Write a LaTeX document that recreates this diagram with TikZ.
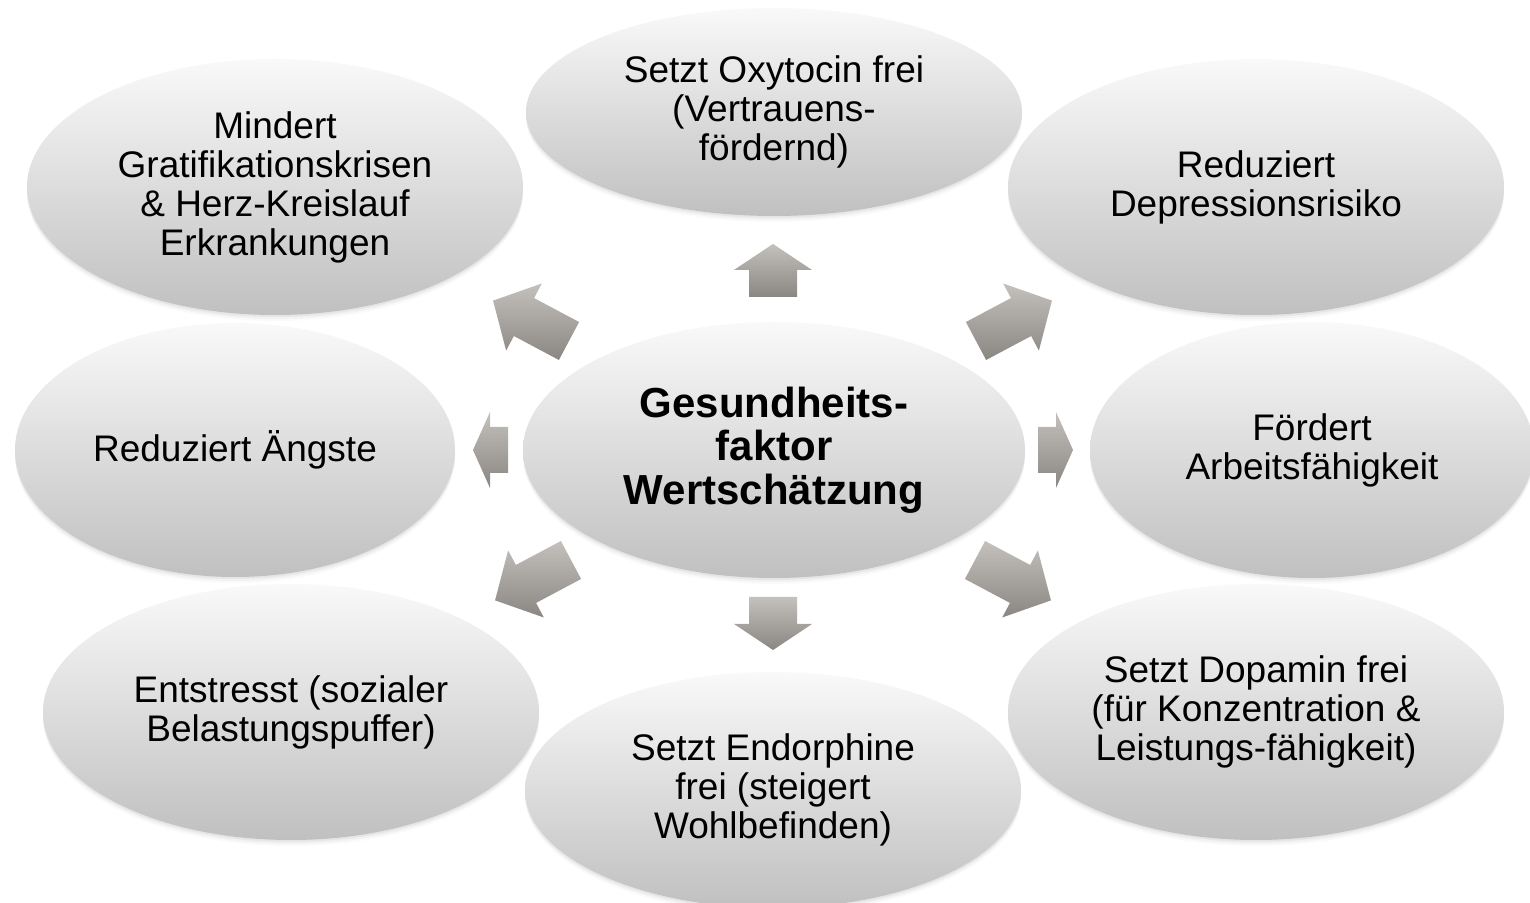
\documentclass[tikz,border=0pt]{standalone}
\usepackage{fontspec}
\setmainfont{Liberation Sans}
\usetikzlibrary{shapes.geometric,shadows,calc}
\definecolor{ellTop}{RGB}{249,249,249}
\definecolor{ellBot}{RGB}{192,192,192}
\definecolor{arrTop}{RGB}{196,192,188}
\definecolor{arrBot}{RGB}{138,134,130}
\tikzset{
  bubble/.style={ellipse, inner sep=0pt, align=center, draw=none,
    top color=ellTop, bottom color=ellBot,
    font=\fontsize{37}{39}\selectfont,
    drop shadow={shadow xshift=0pt,shadow yshift=-2pt,opacity=.10},
    drop shadow={shadow xshift=0pt,shadow yshift=-4pt,opacity=.07},
    drop shadow={shadow xshift=0pt,shadow yshift=-6pt,opacity=.04}},
  hub/.style={bubble, font=\fontsize{42}{43.5}\selectfont\bfseries},
  arrowfill/.style={top color=arrTop, bottom color=arrBot, draw=none},
}
% #1 start coordinate, #2 angle, #3 length, #4 head length, #5 head width, #6 shaft width
\newcommand{\blockarr}[6]{%
  \shade[arrowfill] ($(#1)+(#2+90:#6/2)$) -- ($(#1)+(#2:#3-#4)+(#2+90:#6/2)$)
    -- ($(#1)+(#2:#3-#4)+(#2+90:#5/2)$) -- ($(#1)+(#2:#3)$)
    -- ($(#1)+(#2:#3-#4)+(#2-90:#5/2)$) -- ($(#1)+(#2:#3-#4)+(#2-90:#6/2)$)
    -- ($(#1)+(#2-90:#6/2)$) -- cycle;}
\begin{document}
\begin{tikzpicture}[x=1pt,y=1pt]
\useasboundingbox (0,0) rectangle (1530,902);

% outer bubbles
\node[bubble, minimum width=496pt, minimum height=208pt] (top) at (774,790)
  {Setzt Oxytocin frei\\(Vertrauens-\\fördernd)};
\node[bubble, minimum width=496pt, minimum height=256pt] (tl) at (275,715)
  {Mindert\\Gratifikationskrisen\\\& Herz-Kreislauf\\Erkrankungen};
\node[bubble, minimum width=496pt, minimum height=256pt] (tr) at (1256,715)
  {Reduziert\\Depressionsrisiko};
\node[bubble, minimum width=440pt, minimum height=254pt] (left) at (235,452)
  {Reduziert Ängste};
\node[bubble, minimum width=444pt, minimum height=256pt] (right) at (1312,452)
  {Fördert\\Arbeitsfähigkeit};
\node[bubble, minimum width=496pt, minimum height=256pt] (bl) at (291,190)
  {Entstresst (sozialer\\Belastungspuffer)};
\node[bubble, minimum width=496pt, minimum height=236pt] (bottom) at (773,112)
  {Setzt Endorphine\\frei (steigert\\Wohlbefinden)};
\node[bubble, minimum width=496pt, minimum height=256pt] (br) at (1256,190)
  {Setzt Dopamin frei\\(für Konzentration \&\\Leistungs-fähigkeit)};

% centre
\node[hub, minimum width=502pt, minimum height=256pt] (hub) at (774,452)
  {Gesundheits-\\faktor\\Wertschätzung};

% arrow start points
\coordinate (aU) at (773,605);
\coordinate (aD) at (773,305);
\coordinate (aL) at (508,452);
\coordinate (aR) at (1038,452);
\coordinate (aUL) at (569,561);
\coordinate (aUR) at (976,561);
\coordinate (aDL) at (571,342);
\coordinate (aDR) at (975,342);

\blockarr{aU}{90}{53}{26}{78}{48}
\blockarr{aD}{-90}{53}{26}{78}{48}
\blockarr{aL}{180}{35}{17}{76}{46}
\blockarr{aR}{0}{35}{17}{76}{46}
\blockarr{aUL}{152}{86}{35}{76}{43}
\blockarr{aUR}{28}{86}{35}{76}{43}
\blockarr{aDL}{208}{86}{35}{76}{43}
\blockarr{aDR}{-28}{86}{35}{76}{43}
\end{tikzpicture}
\end{document}
